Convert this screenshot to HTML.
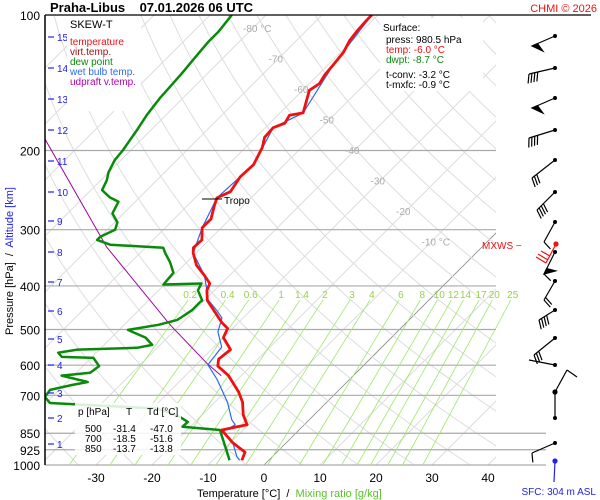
<!DOCTYPE html>
<html><head><meta charset="utf-8"><style>
body{margin:0;background:#fff;}
svg{display:block;font-family:"Liberation Sans",sans-serif;}
</style></head><body>
<svg id="chart" width="600" height="500" viewBox="0 0 600 500" xmlns="http://www.w3.org/2000/svg">
<defs><clipPath id="plotclip"><rect x="45" y="15" width="451" height="450"/></clipPath>
<clipPath id="mixclip"><rect x="45" y="15" width="501" height="450"/></clipPath></defs>
<g id="grid"></g>
<g id="series"></g>
<g id="axes"></g>
<g stroke="#000" stroke-width="1.2" fill="none">
<circle cx="555" cy="392" r="2" fill="#000"/><line x1="555" y1="392" x2="567" y2="370"/><line x1="567" y1="370" x2="577" y2="377"/>
<g stroke="#f01010"><circle cx="556" cy="244" r="2" fill="#f01010"/><line x1="556" y1="244" x2="546" y2="263"/><line x1="546" y1="263" x2="536" y2="257"/><line x1="548" y1="260" x2="538" y2="254"/><line x1="550" y1="256" x2="541" y2="251"/></g>
<g stroke="#2020f0"><circle cx="555" cy="461" r="2" fill="#2020f0"/><line x1="555" y1="461" x2="554" y2="482"/></g>
</g>
<text x="50" y="12" font-size="13" font-weight="bold" fill="#000" xml:space="preserve">Praha-Libus    07.01.2026 06 UTC</text>
<text x="597" y="12" font-size="11" fill="#f01010" text-anchor="end">CHMI © 2026</text>
<rect x="67" y="16" width="74" height="95" fill="#fff"/>
<g font-size="10">
<text x="70" y="28" font-size="11" fill="#000">SKEW-T</text>
<text x="70" y="45" fill="#f01010">temperature</text>
<text x="70" y="55" fill="#a01010">virt.temp.</text>
<text x="70" y="65" fill="#0a8a0a">dew point</text>
<text x="70" y="75" fill="#2a6af0">wet bulb temp.</text>
<text x="70" y="85" fill="#b000b0">udpraft v.temp.</text>
</g>
<rect x="380" y="18" width="103" height="73" fill="#fff"/>
<g font-size="10">
<text x="383" y="31" fill="#000">Surface:</text>
<text x="386" y="43" fill="#000">press: 980.5 hPa</text>
<text x="386" y="53" fill="#f01010">temp: -6.0 °C</text>
<text x="386" y="63" fill="#0a8a0a">dwpt: -8.7 °C</text>
<text x="386" y="78" fill="#000">t-conv: -3.2 °C</text>
<text x="386" y="88" fill="#000">t-mxfc: -0.9 °C</text>
</g>
<rect x="75" y="403" width="106" height="52" fill="#fff" opacity="0.85"/>
<g font-size="10" fill="#000">
<text x="78" y="415">p [hPa]</text><text x="126" y="415">T</text><text x="147" y="415">Td [°C]</text>
<text x="85" y="432">500</text><text x="113" y="432">-31.4</text><text x="150" y="432">-47.0</text>
<text x="85" y="442">700</text><text x="113" y="442">-18.5</text><text x="150" y="442">-51.6</text>
<text x="85" y="452">850</text><text x="113" y="452">-13.7</text><text x="150" y="452">-13.8</text>
</g>
<line x1="202" y1="199" x2="222" y2="199" stroke="#000" stroke-width="1"/>
<text x="224" y="204" font-size="10" fill="#000">Tropo</text>
<text x="482" y="249" font-size="10" fill="#f01010">MXWS −</text>
<text x="197" y="497" font-size="11" xml:space="preserve"><tspan fill="#000">Temperature [°C]  /  </tspan><tspan fill="#5cc02a">Mixing ratio [g/kg]</tspan></text>
<text transform="translate(13,335) rotate(-90)" font-size="11" xml:space="preserve"><tspan fill="#000">Pressure [hPa]  /  </tspan><tspan fill="#2020f0">Altitude [km]</tspan></text>
<text x="596" y="495" font-size="10" fill="#2020f0" text-anchor="end">SFC: 304 m ASL</text>
</svg>
<script>
const isobars=[200,300,400,500,600,700,850,925,1000];
const pressureLabels=[100,200,300,400,500,600,700,850,925,1000];
const tempTicks=[-30,-20,-10,0,10,20,30,40];
const isothermLabels=[-80,-70,-60,-50,-40,-30,-20,-10];
const mixRatios=[0.2,0.4,0.6,1,1.4,2,3,4,6,8,10,12,14,17,20,25];
const altKm=[1,2,3,4,5,6,7,8,9,10,11,12,13,14,15];
const altKmY=[444,418,393,365,339,311,282,252,221,192,161,130,99,68,37];
const tempP=[976,936,893,836,814,773,726,689,633,603,582,554,521,497,483,431,409,395,379,360,338,329,316,297,284,265,255,247,229,215,197,187,178,174,167,165,147,142,136,129,121,114,108,103,100];
const tempT=[-4.8,-5.7,-9.5,-13.8,-10.2,-12.7,-15.0,-17.5,-22.3,-25.9,-27.0,-26.6,-30.0,-30.9,-32.9,-39.5,-41.4,-42.1,-44.5,-47.7,-50.5,-51.4,-51.3,-53.4,-53.4,-55.2,-56.1,-54.8,-55.7,-55.5,-57.0,-58.4,-58.6,-57.3,-57.9,-55.9,-58.8,-58.2,-58.8,-59.1,-59.5,-60.5,-60.9,-61.1,-61.1];
const dewP=[976,928,866,836,822,802,782,763,749,728,706,681,664,654,633,624,603,578,575,563,554,549,541,521,506,501,488,476,469,453,434,431,409,395,397,374,355,338,329,324,316,311,300,289,276,260,254,245,233,224,210,200,180,167,153,145,135,126,115,109,100];
const dewT=[-7.0,-9.3,-12.5,-14.1,-21.4,-21.3,-23.6,-26.6,-29.3,-49.3,-51.3,-51.6,-48.6,-46.3,-52.1,-47.5,-47.1,-49.6,-55.4,-56.8,-53.9,-43.6,-41.4,-43.9,-47.3,-48.4,-43.9,-41.4,-41.1,-40.5,-40.5,-40.4,-43.0,-43.6,-50.2,-50.5,-52.9,-55.5,-56.8,-66.8,-70.0,-70.0,-68.6,-69.5,-72.0,-73.0,-75.4,-78.0,-78.9,-80.0,-81.1,-81.4,-82.5,-83.4,-84.1,-84.3,-84.6,-85.0,-85.5,-85.5,-86.1];
const wetP=[976,959,893,844,814,794,726,646,599,547,506,471,453,426,409,379,338,297,255,215,178,165,129,100];
const wetT=[-5.2,-6.3,-9.5,-13.4,-12.3,-13.8,-17.7,-23.6,-27.9,-28.6,-32.0,-33.8,-36.1,-40.0,-41.4,-44.5,-50.5,-53.4,-56.1,-55.5,-58.6,-55.9,-59.1,-61.1];
const parcelP=[150,188,328,488,594,633];
const parcelT=[-110,-97.5,-67.0,-41.8,-28.4,-23.6];
const windY=[36,68,98,130,160,192,222,252,281,310,338,365,418,443];
const windDX=[-23,-26,-23,-26,-23,-18,-11,-11,-11,-16,-21,-26,0,-23];
const windDY=[10,6,10,8,18,18,20,22,19,10,17,-5,-26,10];
const windBarbs=[0,4,0,4,3,4,1,1,2,4,3,0,0,1];
const windFlag=[1,0,1,0,0,0,0,1,0,0,0,0,0,0];

const NS='http://www.w3.org/2000/svg';
const yP=p=>15+450*Math.log10(p/100);
const xT=(T,p)=>264+5.6*T+(465-yP(p));
function mk(tag,attrs,parent){const e=document.createElementNS(NS,tag);for(const k in attrs)e.setAttribute(k,attrs[k]);parent.appendChild(e);return e;}
const grid=document.getElementById('grid'),series=document.getElementById('series'),axes=document.getElementById('axes');
const gclip=mk('g',{'clip-path':'url(#plotclip)'},grid);
for(let T=-140;T<=40;T+=10){
 const l=mk('line',{x1:xT(T,1000),y1:yP(1000),x2:xT(T,100),y2:yP(100),stroke:T===0?'#888':'#ddd','stroke-width':T===0?0.8:1},gclip);
 
 
}
for(let th=220;th<=520;th+=10){
 let d='';for(let p=1000;p>=100;p-=10){const T=th*Math.pow(p/1000,0.286)-273.15;d+=(p===1000?'M':'L')+xT(T,p).toFixed(1)+','+yP(p).toFixed(1);}
 const a=mk('path',{d:d,fill:'none',stroke:'#ddd','stroke-width':1},gclip);
 
 
}
isobars.forEach(p=>{
 const ext=p>=850?546:496;
 const l=mk('line',{x1:45,y1:yP(p),x2:ext,y2:yP(p),stroke:'#aaa','stroke-width':1.2},grid);
 
 
});
const mclip=mk('g',{'clip-path':'url(#mixclip)'},grid);
function tdFromW(w,p){const e=w*p/(622+w);const L=Math.log(e/6.112);return 243.5*L/(17.67-L);}
mixRatios.forEach(w=>{
 const l=mk('line',{x1:xT(tdFromW(w,430),430),y1:yP(430),x2:xT(tdFromW(w,1000),1000),y2:yP(1000),stroke:'#9be86a','stroke-width':0.8},mclip);
 
 
 const t=mk('text',{x:xT(tdFromW(w,430),430)+2,y:298,'font-size':10,fill:'#9ad04a','text-anchor':'middle'},grid);
 t.textContent=String(w);
 
 
});
isothermLabels.forEach((T,i)=>{
 const p=100*Math.pow(10,(28+i*30.5-15)/450);
 const t=mk('text',{x:xT(T,p)-10,y:yP(p)+4,'font-size':10,fill:'#aaa'},grid);
 t.textContent=(T===-80||T===-10)?T+' °C':String(T);
 
 
});
function line(P,T,color,w,name){
 let d='';P.forEach((p,i)=>{d+=(i?'L':'M')+xT(T[i],p).toFixed(1)+','+yP(p).toFixed(1);});
 const e=mk('path',{d:d,fill:'none',stroke:color,'stroke-width':w,'stroke-linejoin':'round','clip-path':'url(#plotclip)'},series);
 
 
}
line(parcelP,parcelT,'#a000a0',1,'updraft-line');
line(dewP,dewT,'#0a8a0a',2.5,'dewpoint-line');
line(wetP,wetT,'#2a6af0',1.2,'wetbulb-line');
line(tempP,tempT,'#f01010',2.8,'temperature-line');
mk('line',{x1:45,y1:15,x2:45,y2:465,stroke:'#000','stroke-width':1.5},axes);
mk('line',{x1:45,y1:15,x2:591,y2:15,stroke:'#000','stroke-width':1.2},axes);
pressureLabels.forEach(p=>{
 const t=mk('text',{x:40,y:yP(p)+5,'font-size':12,'text-anchor':'end',fill:'#000'},axes);
 t.textContent=String(p);
 
 
});
tempTicks.forEach(T=>{
 const t=mk('text',{x:xT(T,1000),y:482,'font-size':12,'text-anchor':'middle',fill:'#000'},axes);
 t.textContent=String(T);
 
 
});
altKm.forEach((k,i)=>{
 mk('line',{x1:48,y1:altKmY[i],x2:54,y2:altKmY[i],stroke:'#2020f0','stroke-width':1.2},axes);
 const t=mk('text',{x:57,y:altKmY[i]+4,'font-size':10,fill:'#2020f0'},axes);
 t.textContent=String(k);
 
 
});
const wg=mk('g',{stroke:'#000','stroke-width':1.2,fill:'none'},series);
windY.forEach((y,i)=>{
 const x0=555,x1=x0+windDX[i],y1=y+windDY[i];
 const g=mk('g',{},wg);
 
 
 mk('circle',{cx:x0,cy:y,r:2,fill:'#000',stroke:'none'},g);
 mk('line',{x1:x0,y1:y,x2:x1,y2:y1},g);
 const L=Math.hypot(windDX[i],windDY[i])||1,ux=windDX[i]/L,uy=windDY[i]/L;
 const px=-uy,py=ux;
 if(windFlag[i]){mk('path',{d:`M${x1},${y1}L${x1-ux*8+px*-9},${y1-uy*8+py*-9}L${x1-ux*6},${y1-uy*6}Z`,fill:'#000'},g);}
 for(let b=0;b<windBarbs[i];b++){const bx=x1-ux*b*3,by=y1-uy*b*3;mk('line',{x1:bx,y1:by,x2:bx-px*9+ux*3,y2:by-py*9+uy*3},g);}
});
</script>
</body></html>
